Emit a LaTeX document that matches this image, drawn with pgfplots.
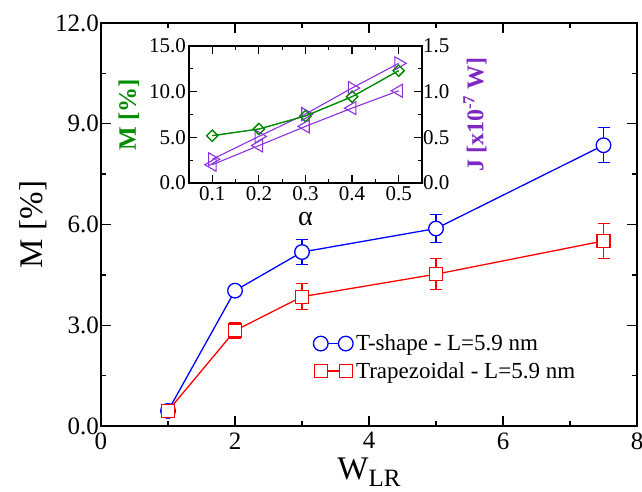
\documentclass[border=0pt]{standalone}
\usepackage{fontspec}
\setmainfont{Liberation Serif}
\usepackage{pgfplots}
\pgfplotsset{compat=1.18}
\definecolor{mgreen}{RGB}{0,140,0}
\definecolor{mpurple}{RGB}{140,50,220}
\definecolor{lpurple}{RGB}{125,40,195}
\pgfplotsset{fmtone/.style={/pgf/number format/fixed, /pgf/number format/fixed zerofill, /pgf/number format/precision=1}}
\pgfplotstableread{
x y e
1 0.45 0.0
2 4.03 0.0
3 5.18 0.37
5 5.88 0.42
7.5 8.36 0.52
}\tshape
\pgfplotstableread{
x y e
1 0.45 0.0
2 2.84 0.23
3 3.85 0.39
5 4.52 0.46
7.5 5.51 0.53
}\trapez
\pgfplotstableread{
x y
0.1 5.18
0.2 5.91
0.3 7.34
0.4 9.45
0.5 12.3
}\inM
\pgfplotstableread{
x y
0.1 0.26
0.2 0.51
0.3 0.755
0.4 1.04
0.5 1.31
}\inJup
\pgfplotstableread{
x y
0.1 0.20
0.2 0.41
0.3 0.62
0.4 0.82
0.5 1.01
}\inJlo
\begin{document}
\begin{tikzpicture}
\path[use as bounding box] (-101pt,-65pt) rectangle (541pt,426pt);
\begin{axis}[
 at={(0pt,0pt)}, anchor=south west,
 scale only axis, width=536pt, height=403pt,
 xmin=0, xmax=8, ymin=0, ymax=12,
 xtick={0,2,4,6,8}, ytick={0,3,6,9,12},
 minor x tick num=1, minor y tick num=1,
 tick align=inside, major tick length=10pt, minor tick length=5pt,
 xtick pos=both, ytick pos=both,
 axis line style={line width=1.8pt},
 every tick/.style={line width=1.4pt, black},
 every minor tick/.style={line width=1.4pt, black},
 /pgf/number format/assume math mode=true,
 tick label style={font=\rmfamily\fontsize{25}{25}\selectfont},
 yticklabel style={fmtone, inner xsep=2pt},
 xticklabel style={yshift=-3pt},
 xlabel={W\raisebox{-0.45ex}{\fontsize{25}{25}\selectfont LR}},
 ylabel={M [\%]},
 label style={font=\rmfamily\fontsize{33}{33}\selectfont},
 xlabel style={at={(axis description cs:0.5,-0.07)}, anchor=north},
 ylabel style={at={(axis description cs:-0.127,0.5)}, anchor=center},
 legend image code/.code={\draw[#1] plot coordinates {(0pt,0pt) (25pt,0pt)};},
 legend style={at={(axis description cs:0.396,0.1705)}, anchor=west, draw=none, fill=none,
   font=\rmfamily\fontsize{23}{23}\selectfont, inner sep=0pt, row sep=6pt,
   nodes={inner xsep=3pt}},
 legend cell align=left,
]
\addplot[blue, line width=1.3pt, mark=*, mark size=7.3pt,
  mark options={fill=white, draw=blue, solid},
  error bars/.cd, y dir=both, y explicit,
  error bar style={line width=1.3pt, blue},
  error mark options={rotate=90, mark size=6pt, line width=1.3pt, blue}]
  table[x=x, y=y, y error=e] {\tshape};
\addlegendentry{T-shape - L=5.9 nm}
\addplot[red, line width=1.3pt, mark=square*, mark size=6.5pt,
  mark options={fill=white, draw=red, solid},
  error bars/.cd, y dir=both, y explicit,
  error bar style={line width=1.3pt, red},
  error mark options={rotate=90, mark size=6pt, line width=1.3pt, red}]
  table[x=x, y=y, y error=e] {\trapez};
\addlegendentry{Trapezoidal - L=5.9 nm}
\end{axis}
% inset, left axis
\begin{axis}[
 at={(88pt,243pt)}, anchor=south west,
 scale only axis, width=233pt, height=137pt,
 xmin=0.05, xmax=0.55, ymin=0, ymax=15,
 xtick={0.1,0.2,0.3,0.4,0.5}, ytick={0,5,10,15},
 minor x tick num=1, minor y tick num=1,
 tick align=inside, major tick length=8pt, minor tick length=4pt,
 xtick pos=both, ytick pos=left,
 axis line style={line width=1.5pt},
 every tick/.style={line width=1.2pt, black},
 every minor tick/.style={line width=1.2pt, black},
 axis background/.style={fill=white},
 /pgf/number format/assume math mode=true,
 tick label style={font=\rmfamily\fontsize{21}{21}\selectfont, fmtone},
 yticklabel style={inner xsep=3pt},
 xlabel={α}, ylabel={\bfseries M [\%]},
 xlabel style={font=\rmfamily\fontsize{28}{28}\selectfont, at={(axis description cs:0.5,-0.265)}, anchor=center},
 ylabel style={font=\rmfamily\fontsize{25}{25}\selectfont, color=mgreen, at={(axis description cs:-0.258,0.5)}, anchor=center},
]
\addplot[mgreen, line width=1.1pt, mark=square, mark size=4pt,
  mark options={rotate=45, solid, fill=white}] table[x=x,y=y] {\inM};
\end{axis}
% inset, right axis
\begin{axis}[
 at={(88pt,243pt)}, anchor=south west,
 scale only axis, width=233pt, height=137pt,
 xmin=0.05, xmax=0.55, ymin=0, ymax=1.5,
 ytick={0,0.5,1.0,1.5}, minor y tick num=1,
 hide x axis, axis y line*=right,
 tick align=inside, major tick length=8pt, minor tick length=4pt,
 axis line style={line width=1.5pt},
 every tick/.style={line width=1.2pt, black},
 every minor tick/.style={line width=1.2pt, black},
 /pgf/number format/assume math mode=true,
 tick label style={font=\rmfamily\fontsize{21}{21}\selectfont},
 yticklabel style={fmtone, inner xsep=1pt},
 ylabel={\bfseries J [x10\textsuperscript{-7} W]},
 ylabel style={font=\rmfamily\fontsize{24}{24}\selectfont, color=lpurple, at={(axis description cs:1.227,0.5)}, anchor=center},
]
\addplot[mpurple, line width=1.1pt, mark=triangle, mark size=7.5pt,
  mark options={rotate=90, solid}] table[x=x,y=y] {\inJlo};
\addplot[mpurple, line width=1.1pt, mark=triangle, mark size=7.5pt,
  mark options={rotate=-90, solid}] table[x=x,y=y] {\inJup};
\end{axis}
% redraw green on top
\begin{axis}[
 at={(88pt,243pt)}, anchor=south west,
 scale only axis, width=233pt, height=137pt,
 xmin=0.05, xmax=0.55, ymin=0, ymax=15,
 hide axis,
]
\addplot[mgreen, line width=1.1pt, mark=square, mark size=4pt,
  mark options={rotate=45, solid, fill=white}] table[x=x,y=y] {\inM};
\end{axis}
\end{tikzpicture}
\end{document}
